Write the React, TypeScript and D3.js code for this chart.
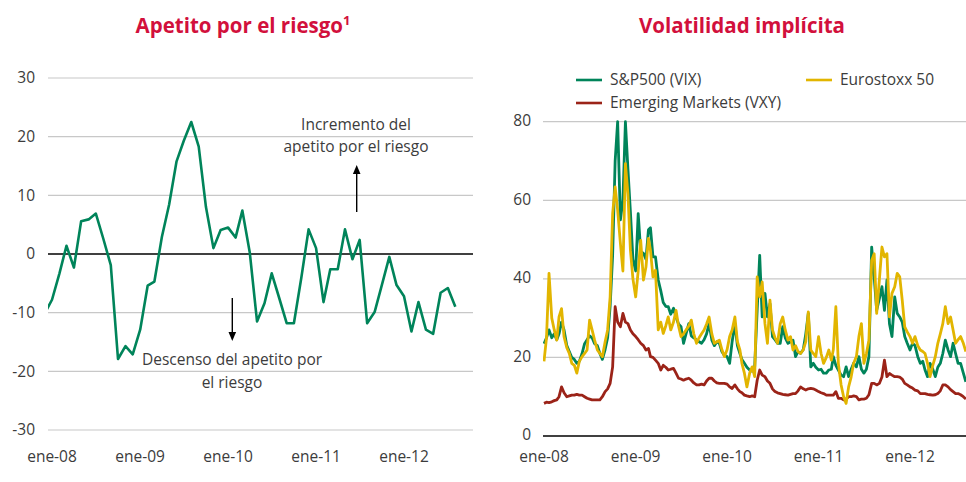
import * as d3 from 'd3';

// Apetito por el riesgo: monthly, dic-07 .. ago-12
const riskValues = [
  -10.2,
  -7.8, -3.3, 1.4, -2.3, 5.6, 5.9, 6.9, 2.6, -1.9, -17.9, -15.7, -17.1,
  -12.9, -5.4, -4.7, 2.9, 8.4, 15.8, 19.3, 22.5, 18.3, 8.0, 1.0, 4.1,
  4.5, 2.8, 7.4, 0.2, -11.5, -8.4, -3.3, -7.5, -11.8, -11.8, -4.0, 4.2,
  1.0, -8.2, -2.6, -2.6, 4.2, -0.9, 2.4, -11.8, -9.9, -5.3, -0.5, -5.3,
  -7.2, -13.2, -8.2, -12.9, -13.6, -6.6, -5.8, -9.0
];
const riskDates = riskValues.map((_, i) => d3.timeMonth.offset(new Date(2007, 11, 1), i));

// Volatilidad implícita: three readings per month (days 1, 11, 21), ene-08 .. ago-12
const vixValues = [
  23.5, 25, 27, 25, 26, 24.5, 26, 29, 27, 23, 21.5, 20, 19.5, 18.5, 19, 21, 23.5, 24.5,
  25.5, 25, 23.5, 23, 21, 19.5, 22, 25, 33, 46, 70, 80, 55, 60, 80, 68, 57, 45,
  42, 56.6, 47, 46.5, 45, 52.5, 53, 45.6, 45.6, 39.7, 37, 34, 33, 32.9, 31, 32.5, 30.3, 28.5,
  27.8, 23.6, 26, 28.6, 25.5, 25, 24.4, 24, 23.6, 24.5, 26, 28.6, 24.4, 23, 24, 23.6, 21.5, 20.5,
  20.2, 18.5, 24, 28.6, 23, 21, 19.5, 18.5, 17.5, 16.8, 16.5, 17.6, 32, 46, 30.3, 36.3, 30.3, 33.7,
  25.3, 24.5, 23.6, 23.6, 27.8, 25, 23.6, 24, 24.4, 20.2, 21.5, 21, 22, 26, 31.2, 17.6, 18.5, 17.5,
  16.8, 17, 16, 16, 16.8, 17, 20.2, 18, 16.8, 15.5, 15.1, 17.6, 15.1, 17, 18.5, 17.6, 20.2, 17,
  16, 17, 20.2, 48.1, 40.5, 32, 35, 38, 32, 39.7, 28.6, 25.3, 35.4, 31.2, 30.3, 29, 25.3, 23.6,
  21.9, 23.6, 23, 20.2, 18.5, 19, 16.8, 15.1, 18.5, 17, 15.1, 17.5, 18.5, 21, 24.4, 21.9, 20.2, 23.6,
  21, 18.5, 18.5, 16, 13.8
];
const stoxxValues = [
  19, 25, 41.4, 30, 27, 24.4, 30.3, 32.4, 25.3, 22.5, 21, 18.5, 18, 16, 19, 20.2, 21, 21.9,
  29.5, 27, 24.4, 21.9, 21, 20.2, 24, 27, 35.4, 56.6, 63.4, 57.5, 49, 42, 69.3, 61.7, 47.3, 40,
  35.4, 42, 49.8, 39.7, 43, 50.3, 47.3, 40.5, 42.2, 27, 29, 26.1, 28, 30.3, 27, 29, 32, 28,
  25.3, 26, 27, 28, 29.5, 26, 23.6, 25, 26, 27, 28.5, 30.3, 26, 23.6, 24, 24.4, 22, 20.2,
  22, 25.3, 27, 30.3, 24, 21.9, 18.5, 16, 12.5, 16, 17.6, 15.1, 40.5, 35.4, 39.2, 28.6, 23.6, 34.6,
  27, 25, 23.6, 28.6, 30.3, 27, 24.4, 25.3, 21.9, 23, 21.5, 21, 21.9, 24, 31.6, 21.9, 21, 20.2,
  25.3, 21, 18.5, 20, 21.9, 19.3, 22, 32.9, 18.5, 13, 10, 8.3, 12.5, 15, 18.5, 20.2, 25.3, 28.6,
  18.5, 21, 24.4, 44.7, 46.4, 31.2, 40, 48.1, 45.6, 46.4, 30.3, 36.3, 38, 41.4, 40.5, 34.6, 27.8, 26.5,
  25.3, 23.6, 25.3, 23, 21.9, 21.5, 21, 18.5, 15.1, 18, 20.2, 23.6, 26, 28.6, 32.9, 28.6, 30.3, 27,
  23.6, 24.5, 25.3, 23.6, 21.5
];
const vxyValues = [
  8.3, 8.6, 8.5, 8.7, 9, 9.2, 10, 12.5, 11, 10, 10.2, 10.4, 10.4, 10.6, 10.4, 10.4, 10, 9.6,
  9.4, 9.2, 9.2, 9.2, 9.2, 10, 11.3, 12, 13.4, 17.6, 32.9, 29, 27.8, 31.2, 29, 28.6, 27, 26,
  25.3, 24.5, 23.6, 23, 21.9, 22.3, 20.2, 20, 19.3, 18.5, 16.8, 18, 17.5, 16.8, 17, 17.2, 16, 14.7,
  14.5, 14.2, 14.5, 14.7, 14.2, 13.5, 13, 13, 13.2, 13, 14, 14.7, 14.7, 14, 13.5, 13.4, 13.4, 13.4,
  13.2, 12.5, 12.1, 13, 12, 11.3, 11, 10.4, 10.2, 10, 10.2, 10, 14.2, 16.8, 15.5, 15.1, 14, 13.4,
  12, 11.3, 11, 10.8, 10.6, 10.5, 10.4, 10.6, 10.8, 10.8, 11.5, 12.5, 12, 11.7, 12, 12.1, 12, 11.7,
  11.3, 11, 10.8, 10.4, 10.4, 10.4, 10.4, 11.3, 9.6, 9.6, 9.2, 9.4, 10, 10, 10.2, 10, 9.2, 9.4,
  9.4, 9.6, 10.5, 13.4, 13.4, 13, 13.4, 15, 19.3, 15.1, 15.9, 15.5, 15.1, 15.1, 15, 14.5, 13.4, 13,
  12.5, 12.2, 11.7, 11.5, 10.8, 10.8, 10.8, 10.6, 10.5, 10.4, 10.5, 10.8, 11.5, 13, 13, 12.5, 11.8, 11.3,
  10.8, 10.8, 10.5, 10, 9.4
];
const volDates = vixValues.map((_, i) => new Date(2008, Math.floor(i / 3), 1 + (i % 3) * 10));

const riskTicks = [-30, -20, -10, 0, 10, 20, 30];
const volTicks = [0, 20, 40, 60, 80];
const yearLabels = ['ene-08', 'ene-09', 'ene-10', 'ene-11', 'ene-12'];
const years = [2008, 2009, 2010, 2011, 2012];

const volSeries = [
  { name: 'S&P500 (VIX)', values: vixValues, color: '#00845a' },
  { name: 'Emerging Markets (VXY)', values: vxyValues, color: '#9b2318' },
  { name: 'Eurostoxx 50', values: stoxxValues, color: '#e2b500' }
];

const FONT = '"Open Sans", "DejaVu Sans", sans-serif';
const TEXT = '#3c3c3c';
const TITLE = '#d2103c';
const GRID = '#c8c8c8';

function Arrow({ x, y1, y2 }: { x: number; y1: number; y2: number }) {
  // y2 is the tip
  const dir = y2 < y1 ? 1 : -1;
  return (
    <g>
      <line x1={x} x2={x} y1={y1} y2={y2 + dir * 6} stroke="#000" strokeWidth={1.4} />
      <path d={`M${x},${y2} L${x - 3.8},${y2 + dir * 9} L${x + 3.8},${y2 + dir * 9} Z`} fill="#000" />
    </g>
  );
}

function RiskPanel() {
  const x = d3.scaleTime().domain([new Date(2008, 0, 1), new Date(2012, 0, 1)]).range([52, 404]);
  const y = d3.scaleLinear().domain([-30, 30]).range([430, 78]);
  const left = 48;
  const right = 473;
  const line = d3
    .line<number>()
    .x((_, i) => x(riskDates[i]))
    .y((d) => y(d));

  return (
    <g fontFamily={FONT}>
      <text x={243} y={33} textAnchor="middle" fontWeight="bold" fontSize={20.5} fill={TITLE}>
        Apetito por el riesgo
        <tspan fontSize={13} dy={-8}>1</tspan>
      </text>
      <clipPath id="riskClip">
        <rect x={left} y={60} width={right - left} height={400} />
      </clipPath>
      {riskTicks.map((t) => (
        <g key={t}>
          <line
            x1={left}
            x2={right}
            y1={y(t)}
            y2={y(t)}
            stroke={t === 0 ? '#000' : GRID}
            strokeWidth={t === 0 ? 1.4 : 1.2}
          />
          <text x={35} y={y(t)} dy="0.35em" textAnchor="end" fontSize={15.5} fill={TEXT}>
            {t}
          </text>
        </g>
      ))}
      {years.map((yr, i) => (
        <text key={yr} x={x(new Date(yr, 0, 1))} y={462} textAnchor="middle" fontSize={15.5} fill={TEXT}>
          {yearLabels[i]}
        </text>
      ))}
      <path
        d={line(riskValues) || ''}
        fill="none"
        stroke="#00845a"
        strokeWidth={2.6}
        strokeLinejoin="round"
        clipPath="url(#riskClip)"
      />
      <text x={356} y={130} textAnchor="middle" fontSize={15.5} fill={TEXT}>Incremento del</text>
      <text x={356} y={152} textAnchor="middle" fontSize={15.5} fill={TEXT}>apetito por el riesgo</text>
      <Arrow x={356.7} y1={212} y2={165} />
      <Arrow x={232.3} y1={298} y2={341} />
      <text x={232} y={365} textAnchor="middle" fontSize={15.5} fill={TEXT}>Descenso del apetito por</text>
      <text x={232} y={388} textAnchor="middle" fontSize={15.5} fill={TEXT}>el riesgo</text>
    </g>
  );
}

function VolPanel() {
  const x = d3.scaleTime().domain([new Date(2008, 0, 1), new Date(2012, 0, 1)]).range([544, 910]);
  const y = d3.scaleLinear().domain([0, 80]).range([436, 121.7]);
  const left = 543;
  const right = 966;
  const line = d3
    .line<number>()
    .x((_, i) => x(volDates[i]))
    .y((d) => y(d));

  const legend = [
    { s: volSeries[0], lx: 576, ly: 80 },
    { s: volSeries[2], lx: 806, ly: 80 },
    { s: volSeries[1], lx: 576, ly: 103 }
  ];

  return (
    <g fontFamily={FONT}>
      <text x={742} y={33} textAnchor="middle" fontWeight="bold" fontSize={20.5} fill={TITLE}>
        Volatilidad implícita
      </text>
      <clipPath id="volClip">
        <rect x={left} y={100} width={right - left} height={340} />
      </clipPath>
      {volTicks.map((t) => (
        <g key={t}>
          <line
            x1={left}
            x2={right}
            y1={y(t)}
            y2={y(t)}
            stroke={t === 0 ? '#000' : GRID}
            strokeWidth={t === 0 ? 1.4 : 1.2}
          />
          <text x={531} y={y(t) - 1} dy="0.35em" textAnchor="end" fontSize={15.5} fill={TEXT}>
            {t}
          </text>
        </g>
      ))}
      {years.map((yr, i) => (
        <text key={yr} x={x(new Date(yr, 0, 1))} y={462} textAnchor="middle" fontSize={15.5} fill={TEXT}>
          {yearLabels[i]}
        </text>
      ))}
      <g clipPath="url(#volClip)">
        {volSeries.map((s) => (
          <path
            key={s.name}
            d={line(s.values) || ''}
            fill="none"
            stroke={s.color}
            strokeWidth={2.8}
            strokeLinejoin="round"
          />
        ))}
      </g>
      {legend.map(({ s, lx, ly }) => (
        <g key={s.name}>
          <line x1={lx} x2={lx + 26} y1={ly} y2={ly} stroke={s.color} strokeWidth={2.6} />
          <text x={lx + 34} y={ly} dy="0.35em" fontSize={15.5} fill={TEXT}>
            {s.name}
          </text>
        </g>
      ))}
    </g>
  );
}

export default function App() {
  return (
    <svg
      width={966}
      height={482}
      style={{ position: 'absolute', left: 0, top: 0, background: '#fff' }}
    >
      <RiskPanel />
      <VolPanel />
    </svg>
  );
}
